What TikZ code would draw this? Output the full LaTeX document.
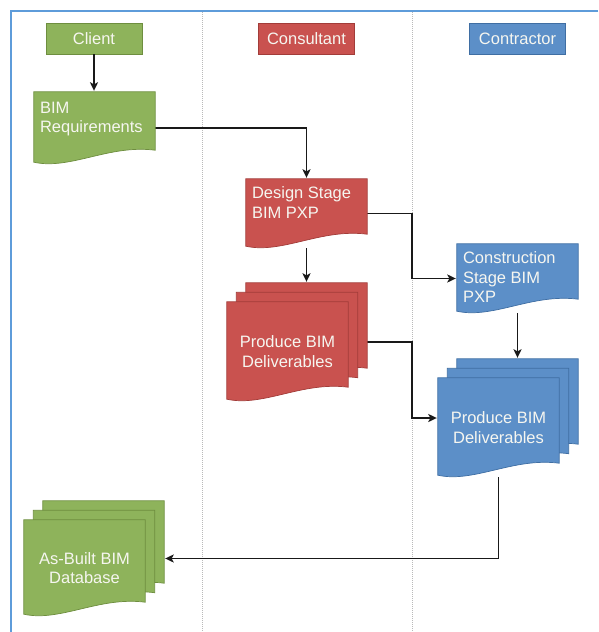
\documentclass[tikz,border=0pt]{standalone}
\usepackage{fontspec}
\setmainfont{Liberation Sans}
\usetikzlibrary{calc,arrows.meta}
\definecolor{gfill}{HTML}{8EB35B}
\definecolor{gline}{HTML}{6E8E3F}
\definecolor{rfill}{HTML}{C9524F}
\definecolor{rline}{HTML}{A23C39}
\definecolor{bfill}{HTML}{5C8FC8}
\definecolor{bline}{HTML}{3F6EA3}
\definecolor{framec}{HTML}{5E9CDA}
\definecolor{labelc}{HTML}{F6F6F0}

% Flowchart "document" outline drawn over the corners of a named node
\newcommand\docshape[2]{%
  \path[#2] (#1.north west) -- (#1.north east) -- ([yshift=14pt]#1.south east)
    .. controls ($(#1.south west)!0.62!(#1.south east)+(0pt,20pt)$)
           and ($(#1.south west)!0.3!(#1.south east)+(0pt,-6pt)$)
    .. ([yshift=2pt]#1.south west) -- cycle;}

\begin{document}
\begin{tikzpicture}[x=1pt,y=-1pt,
  lbl/.style={text=labelc, font=\fontsize{16.5}{19.5}\selectfont, inner sep=0pt},
  header/.style={rectangle, minimum width=96pt, minimum height=31pt, inner sep=0pt,
    line width=0.8pt, text=labelc, font=\fontsize{16.5}{19.5}\selectfont},
  sheet/.style={rectangle, inner sep=0pt, minimum width=121pt},
  greendoc/.style={fill=gfill, draw=gline, line width=0.7pt},
  reddoc/.style={fill=rfill, draw=rline, line width=0.7pt},
  bluedoc/.style={fill=bfill, draw=bline, line width=0.7pt},
  conn/.style={draw=black!90, line width=1.8pt, shorten >=1pt,
    -{Stealth[length=8.5pt,width=8pt,inset=2pt]}},
  lane/.style={draw=gray!55, line width=0.8pt, dash pattern=on 1pt off 1pt},
  frameline/.style={draw=framec, line width=2pt}]
\useasboundingbox (0,0) rectangle (598,632);

% page frame and swimlane separators
\coordinate (frametr) at (598,11);
\coordinate (frametl) at (11,11);
\coordinate (framebl) at (11,632);
\draw[frameline] (frametr) -- (frametl) -- (framebl);
\coordinate (lane1) at (202,12);
\coordinate (lane1b) at (202,632);
\coordinate (lane2) at (412,12);
\coordinate (lane2b) at (412,632);
\draw[lane] (lane1) -- (lane1b);
\draw[lane] (lane2) -- (lane2b);

% lane headers
\node[header, fill=gfill, draw=gline] (client) at (94,38.5) {Client};
\node[header, fill=rfill, draw=rline] (consultant) at (306.5,38.5) {Consultant};
\node[header, fill=bfill, draw=bline] (contractor) at (517.5,38.5) {Contractor};

% geometry of the document shapes
\node[sheet, minimum height=72pt] (bimreq) at (94.5,128) {};
\node[sheet, minimum height=69pt] (design) at (306.5,213.5) {};
\node[sheet, minimum height=69pt] (construction) at (517.5,278.5) {};
\node[sheet, minimum height=99pt] (redA) at (306.5,332.5) {};
\node[sheet, minimum height=99pt] (redB) at (297,342) {};
\node[sheet, minimum height=99pt] (redC) at (287.5,351.5) {};
\node[rectangle, inner sep=0pt, minimum width=140pt, minimum height=118pt] (redprod) at (297,342) {};
\node[sheet, minimum height=99pt] (blueA) at (517.5,408.5) {};
\node[sheet, minimum height=99pt] (blueB) at (508,418) {};
\node[sheet, minimum height=99pt] (blueC) at (498.5,427.5) {};
\node[rectangle, inner sep=0pt, minimum width=140pt, minimum height=118pt] (blueprod) at (508,418) {};
\node[sheet, minimum height=96pt] (asA) at (103.5,549) {};
\node[sheet, minimum height=96pt] (asB) at (94,558.5) {};
\node[sheet, minimum height=96pt] (asC) at (84.5,568) {};
\node[rectangle, inner sep=0pt, minimum width=140pt, minimum height=115pt] (asbuilt) at (94,558.5) {};

% connectors
\draw[conn] (client.south) -- (client.south |- bimreq.north);
\draw[conn] (bimreq.east) -| (design.north);
\draw[conn] (design.south) -- (redA.north);
\draw[conn] (design.east) -- (design.east -| lane2) |- (construction.west);
\draw[conn] (construction.south) -- (blueA.north);
\draw[conn] (redprod.east) -- (redprod.east -| lane2) |- (blueprod.west);
\draw[conn] (blueC.south) |- (asbuilt.east);

% document shapes
\docshape{bimreq}{greendoc}
\docshape{design}{reddoc}
\docshape{construction}{bluedoc}
\docshape{redA}{reddoc}
\docshape{redB}{reddoc}
\docshape{redC}{reddoc}
\docshape{blueA}{bluedoc}
\docshape{blueB}{bluedoc}
\docshape{blueC}{bluedoc}
\docshape{asA}{greendoc}
\docshape{asB}{greendoc}
\docshape{asC}{greendoc}

% labels
\node[lbl, anchor=north west, align=left] (bimreqtxt) at ([xshift=6pt,yshift=-10pt]bimreq.north west) {BIM\\Requirements};
\node[lbl, anchor=north west, align=left] (designtxt) at ([xshift=6pt,yshift=-8pt]design.north west) {Design Stage\\BIM PXP};
\node[lbl, anchor=north west, align=left] (constructiontxt) at ([xshift=6pt,yshift=-8pt]construction.north west) {Construction\\Stage BIM\\PXP};
\node[lbl, align=center] (redprodtxt) at (redC.center) {Produce BIM\\Deliverables};
\node[lbl, align=center] (blueprodtxt) at (blueC.center) {Produce BIM\\Deliverables};
\node[lbl, align=center] (asbuilttxt) at (asC.center) {As-Built BIM\\Database};
\end{tikzpicture}
\end{document}
